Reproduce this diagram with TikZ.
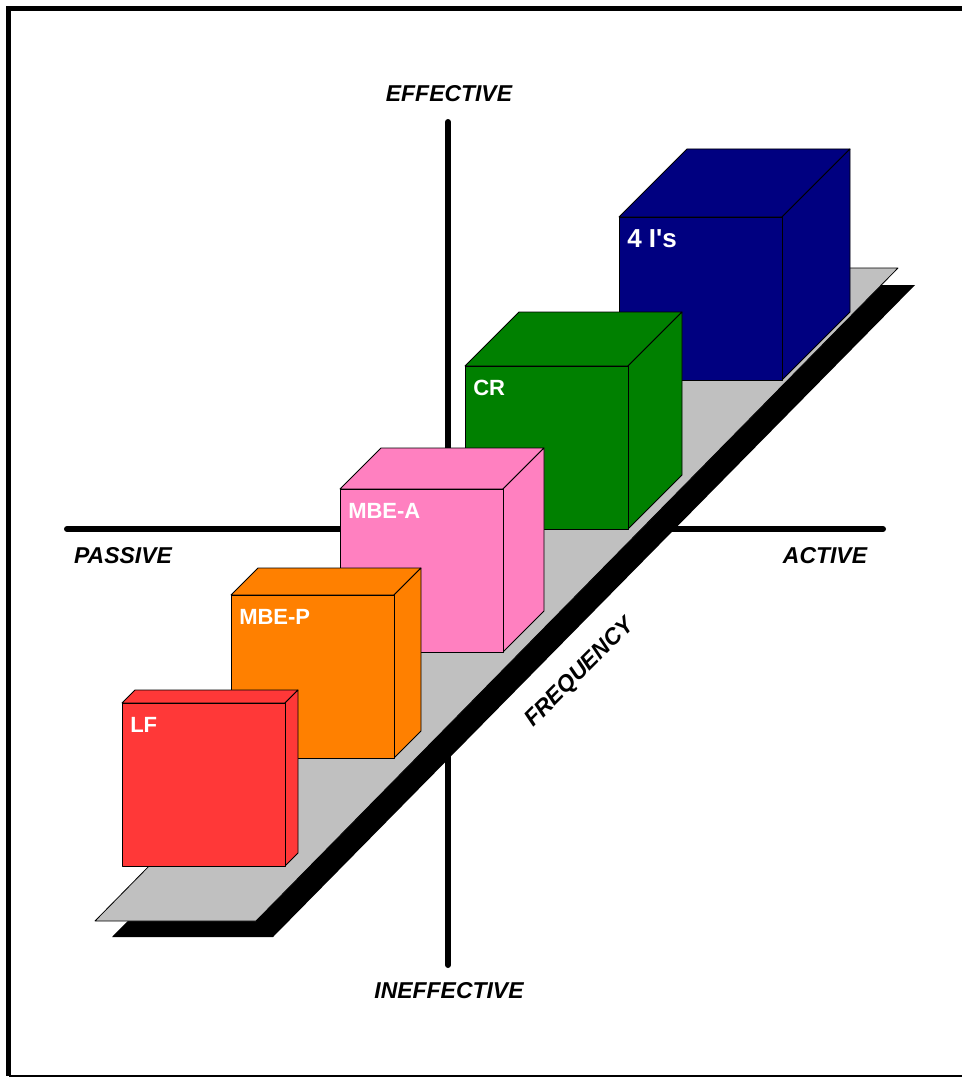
\documentclass[tikz,border=0pt]{standalone}
\usepackage{fontspec}
\setmainfont{Liberation Sans}
\usetikzlibrary{positioning}
\definecolor{lfred}{HTML}{FF3838}
\definecolor{mbeporange}{HTML}{FF8000}
\definecolor{mbeapink}{HTML}{FF80C0}
\definecolor{crgreen}{HTML}{008000}
\definecolor{fourinavy}{HTML}{000080}
\definecolor{platgray}{HTML}{C0C0C0}

\begin{document}
\begin{tikzpicture}[
    x=0.75pt, y=-0.75pt,
    axis/.style={line width=4.5pt, line cap=round},
    axislabel/.style={font=\fontsize{17.2}{19}\selectfont\bfseries\itshape, inner sep=0pt},
    boxface/.style={draw=black, line width=0.6pt, line join=round},
    boxlabel/.style={font=\fontsize{16.5}{18}\selectfont\bfseries, text=white, anchor=west, inner sep=0pt}
]
    \useasboundingbox (0,0) rectangle (962,1077);

    % --- Frame ---
    \draw[line width=3.8pt] (975,8.5) -- (8.5,8.5) -- (8.5,1076);
    \draw[line width=1.5pt] (8.5,1076) -- (975,1076);

    % --- Axes ---
    \coordinate (effTop) at (448,122);
    \coordinate (effBot) at (448,965);
    \coordinate (pasL) at (67,529);
    \coordinate (actR) at (883,529);
    \draw[axis] (effTop) -- (effBot);
    \draw[axis] (pasL) -- (actR);

    \node[axislabel] (effective) at (449,94) {EFFECTIVE};
    \node[axislabel] (ineffective) at (449,991) {INEFFECTIVE};
    \node[axislabel] (passive) at (123,556) {PASSIVE};
    \node[axislabel] (active) at (825,556) {ACTIVE};

    % --- Platform (shadow, then top) ---
    \fill[black] (112,937) -- (273,937) -- (915,285) -- (754,285) -- cycle;
    \draw[boxface, fill=platgray] (95,921) -- (256,921) -- (898,268) -- (737,268) -- cycle;
    \node[axislabel, rotate=45] (frequency) at (580,673) {FREQUENCY};

    % --- Boxes, back to front ---
    \foreach \x/\y/\d/\col/\fs/\nm/\txt in {
        619/217/68/fourinavy/19.5/fouri/{4 I\textquotesingle s},
        465/366/54/crgreen/16.5/cr/CR,
        340/489/41/mbeapink/16.5/mbea/MBE-A,
        231/595/27/mbeporange/16.5/mbep/MBE-P,
        122/703/13/lfred/16.5/lf/LF}{
        \draw[boxface, fill=\col] (\x,\y) -- ++(\d,-\d) -- ++(163,0) -- ++(-\d,\d) -- cycle;
        \draw[boxface, fill=\col] (\x+163,\y) -- ++(\d,-\d) -- ++(0,163) -- ++(-\d,\d) -- cycle;
        \draw[boxface, fill=\col] (\x,\y) rectangle ++(163,163);
        \node[boxlabel, font=\fontsize{\fs}{20}\selectfont\bfseries] (lbl-\nm) at (\x+8,\y+22) {\txt};
    }
\end{tikzpicture}
\end{document}
